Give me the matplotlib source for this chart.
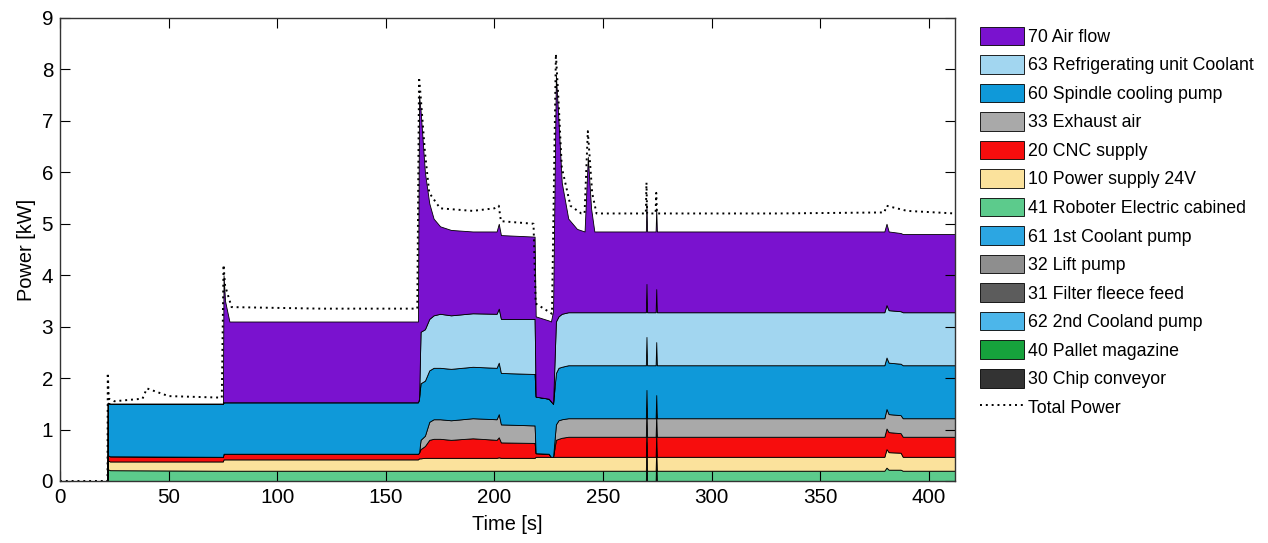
import numpy as np
import matplotlib
matplotlib.use("Agg")
import matplotlib.pyplot as plt
from matplotlib import font_manager as fm

# pick a narrow Helvetica-like face if present
names = {f.name for f in fm.fontManager.ttflist}
if "Liberation Sans Narrow" in names:
    plt.rcParams["font.family"] = ["Liberation Sans Narrow", "DejaVu Sans"]
    scale = 1.0
else:
    plt.rcParams["font.family"] = ["Liberation Sans", "DejaVu Sans"]
    scale = 0.85

# --- data ----------------------------------------------------------------
# common breakpoints [s]
time = [0, 21.9, 22, 23, 75, 75.3, 76, 78, 164.8, 165.3,
        166, 168, 170, 172, 175, 180, 190, 201, 202, 203,
        218.5, 219, 225, 226, 227, 228.3, 229.5, 231, 234, 238,
        241.5, 243, 244.5, 246, 269.7, 270, 270.3, 274.2, 274.5, 274.8,
        379.5, 380.5, 381.5, 387, 388, 412]

# upper boundary of each visible layer [kW]
green_top = [0, 0, 0.23, 0.21, 0.2, 0.2, 0.2, 0.2, 0.2, 0.2,
             0.2, 0.2, 0.2, 0.2, 0.2, 0.2, 0.2, 0.2, 0.2, 0.2,
             0.2, 0.2, 0.2, 0.2, 0.2, 0.2, 0.2, 0.2, 0.2, 0.2,
             0.2, 0.2, 0.2, 0.2, 0.2, 0.2, 0.2, 0.2, 0.2, 0.2,
             0.2, 0.26, 0.22, 0.22, 0.2, 0.2]
yellow_top = [0, 0, 0.4, 0.38, 0.38, 0.42, 0.42, 0.42, 0.42, 0.44,
              0.44, 0.45, 0.45, 0.45, 0.45, 0.45, 0.45, 0.45, 0.46, 0.45,
              0.45, 0.47, 0.47, 0.47, 0.47, 0.47, 0.47, 0.47, 0.47, 0.47,
              0.47, 0.47, 0.47, 0.47, 0.47, 0.47, 0.47, 0.47, 0.47, 0.47,
              0.47, 0.62, 0.56, 0.55, 0.47, 0.47]
red_top = [0, 0, 0.5, 0.48, 0.47, 0.53, 0.53, 0.53, 0.53, 0.55,
           0.62, 0.68, 0.8, 0.82, 0.82, 0.8, 0.83, 0.8, 0.85, 0.75,
           0.74, 0.54, 0.53, 0.47, 0.47, 0.8, 0.82, 0.84, 0.86, 0.86,
           0.86, 0.86, 0.86, 0.86, 0.86, 0.86, 0.86, 0.86, 0.86, 0.86,
           0.86, 1.02, 0.95, 0.93, 0.86, 0.86]
gray_top = [0, 0, 0.5, 0.48, 0.47, 0.53, 0.53, 0.53, 0.53, 0.55,
            0.8, 0.88, 1.15, 1.2, 1.2, 1.18, 1.22, 1.2, 1.3, 1.1,
            1.08, 0.54, 0.53, 0.47, 0.47, 1.1, 1.18, 1.2, 1.22, 1.22,
            1.22, 1.22, 1.22, 1.22, 1.22, 1.22, 1.22, 1.22, 1.22, 1.22,
            1.22, 1.4, 1.3, 1.28, 1.22, 1.22]
blue_top = [0, 0, 1.52, 1.5, 1.5, 1.53, 1.53, 1.53, 1.53, 1.6,
            1.9, 1.95, 2.15, 2.2, 2.2, 2.18, 2.22, 2.2, 2.3, 2.1,
            2.08, 1.64, 1.6, 1.55, 1.5, 2.1, 2.2, 2.22, 2.25, 2.25,
            2.25, 2.25, 2.25, 2.25, 2.25, 2.25, 2.25, 2.25, 2.25, 2.25,
            2.25, 2.4, 2.3, 2.28, 2.25, 2.25]
lblue_top = [0, 0, 1.52, 1.5, 1.5, 1.53, 1.53, 1.53, 1.53, 1.6,
             2.9, 2.95, 3.15, 3.22, 3.25, 3.22, 3.26, 3.25, 3.35, 3.15,
             3.15, 1.64, 1.6, 1.55, 1.5, 3.1, 3.2, 3.25, 3.28, 3.28,
             3.28, 3.28, 3.28, 3.28, 3.28, 3.28, 3.28, 3.28, 3.28, 3.28,
             3.28, 3.42, 3.32, 3.3, 3.28, 3.28]
purple_top = [0, 0, 1.52, 1.5, 1.5, 4.0, 3.5, 3.1, 3.1, 7.5,
              7.2, 6.0, 5.4, 5.1, 4.95, 4.88, 4.85, 4.85, 5.0, 4.78,
              4.75, 3.2, 3.12, 3.1, 3.3, 7.9, 7.0, 5.8, 5.1, 4.9,
              4.85, 6.3, 5.3, 4.85, 4.85, 4.85, 4.85, 4.85, 4.85, 4.85,
              4.85, 5.0, 4.85, 4.82, 4.8, 4.8]
# short spikes of the filter fleece feed
fleece = [0, 0, 0, 0, 0, 0, 0, 0, 0, 0,
          0, 0, 0, 0, 0, 0, 0, 0, 0, 0,
          0, 0, 0, 0, 0, 0, 0, 0, 0, 0,
          0, 0, 0, 0, 0, 0.55, 0, 0, 0.45, 0,
          0, 0, 0, 0, 0, 0]

total_t = [0, 21.9, 22, 22.5, 25, 38, 40, 50, 74.5, 75.3,
           76, 79, 120, 164.5, 165.3, 166, 168, 170, 175, 190,
           200, 202, 203, 218, 219, 226.5, 228.3, 229.5, 231, 235,
           240, 241.5, 243, 245, 247, 269.7, 270, 270.3, 274.2, 274.5,
           274.8, 330, 379.5, 380.5, 390, 412]
total_p = [0, 0, 2.1, 1.6, 1.55, 1.6, 1.8, 1.65, 1.62, 4.2,
           3.8, 3.38, 3.35, 3.35, 7.85, 7.5, 6.4, 5.6, 5.3, 5.25,
           5.3, 5.35, 5.05, 5.0, 3.45, 3.25, 8.3, 7.4, 6.1, 5.35,
           5.2, 5.2, 6.8, 5.6, 5.2, 5.2, 5.8, 5.2, 5.2, 5.6,
           5.2, 5.2, 5.22, 5.35, 5.25, 5.2]

# stack order bottom -> top (legend shows it reversed)
labels = ["30 Chip conveyor", "40 Pallet magazine", "62 2nd Cooland pump",
          "31 Filter fleece feed", "32 Lift pump", "61 1st Coolant pump",
          "41 Roboter Electric cabined", "10 Power supply 24V", "20 CNC supply",
          "33 Exhaust air", "60 Spindle cooling pump",
          "63 Refrigerating unit Coolant", "70 Air flow"]
colors = ["#333333", "#16a23c", "#4cb6ea", "#5c5c5c", "#8e8e8e", "#2ca6e2",
          "#5ccb8c", "#fbe29c", "#f70d0d", "#a9a9a9", "#0f99d9",
          "#a2d6f0", "#7a12cf"]

# --- build layer thicknesses from the boundaries ---------------------------
t = np.array(time)
zero = np.zeros_like(t)
tops = np.array([green_top, yellow_top, red_top, gray_top,
                 blue_top, lblue_top, purple_top])
thick = np.diff(np.vstack([zero, tops]), axis=0)
layers = [zero, zero, zero, np.array(fleece), zero, zero] + list(thick)

fig = plt.figure(figsize=(12.68, 5.43), dpi=100)
ax = fig.add_axes([0.0473, 0.1142, 0.7058, 0.8527])

polys = ax.stackplot(t, layers, colors=colors, labels=labels,
                     edgecolor="black", linewidth=0.6)
tot, = ax.plot(total_t, total_p, color="black", linestyle=(0, (1, 2)),
               linewidth=1.4, label="Total Power")

ax.set_xlim(0, 412)
ax.set_ylim(0, 9)
ax.set_xticks(np.arange(0, 401, 50))
ax.set_yticks(np.arange(0, 10, 1))
ax.tick_params(direction="in", top=True, right=True, length=7,
               labelsize=17.5 * scale, pad=5)
ax.set_xlabel("Time [s]", fontsize=17 * scale, labelpad=6)
ax.set_ylabel("Power [kW]", fontsize=17 * scale, labelpad=4)
for s in ax.spines.values():
    s.set_linewidth(1.0)
    s.set_color("#333333")

handles = list(polys[::-1]) + [tot]
fig.legend(handles=handles, labels=labels[::-1] + ["Total Power"],
           loc="upper left", bbox_to_anchor=(0.7655, 0.9675),
           frameon=False, fontsize=15 * scale, borderpad=0,
           handlelength=2.5, handleheight=1.25, labelspacing=0.52,
           handletextpad=0.25)

fig.savefig("out.png", dpi=100)
